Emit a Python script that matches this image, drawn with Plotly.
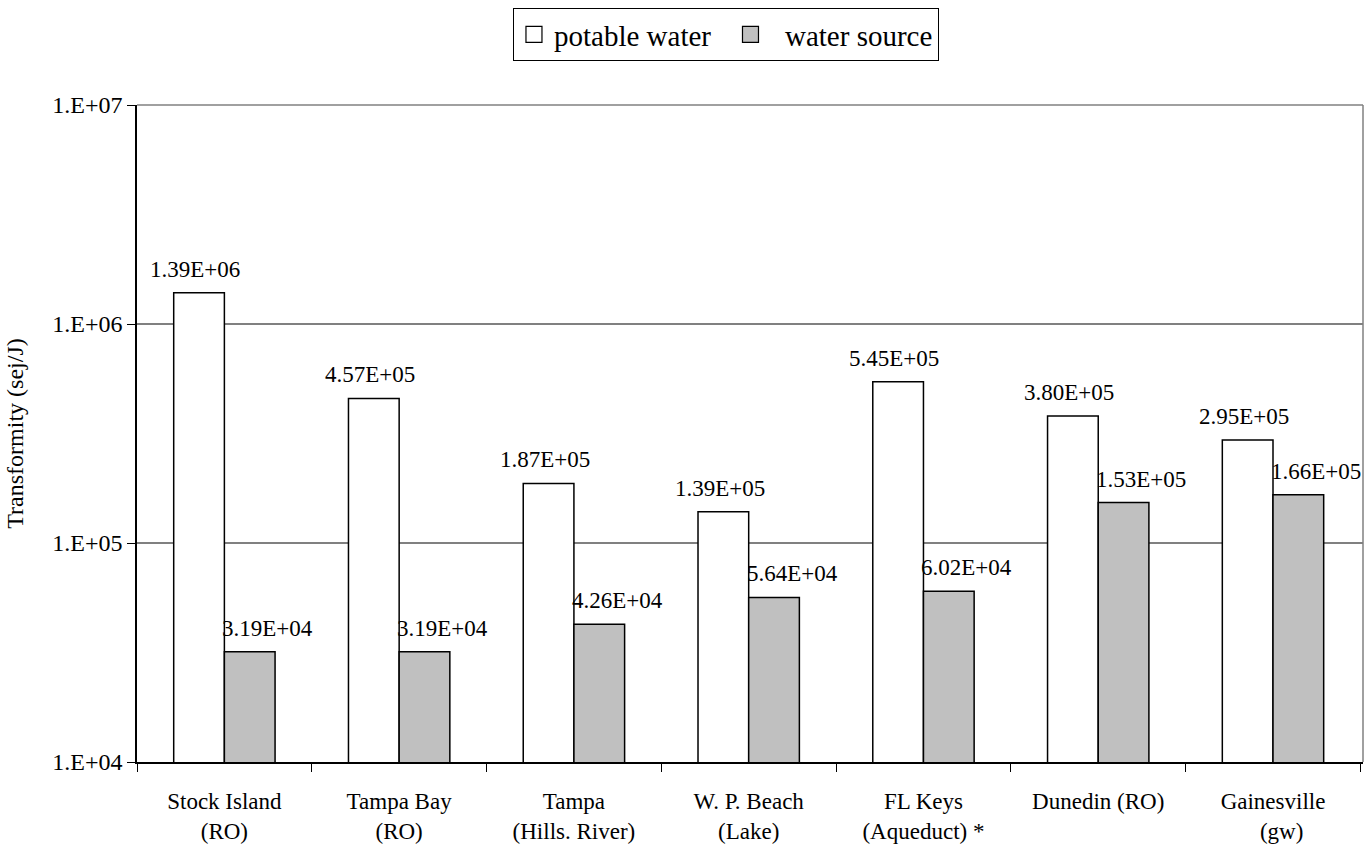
import math
import plotly.graph_objects as go

# Treatment systems and their transformities (sej/J)
categories = [
    "Stock Island<br>(RO)",
    "Tampa Bay<br>(RO)",
    "Tampa<br>(Hills. River)",
    "W. P. Beach<br>(Lake)",
    "FL Keys<br>(Aqueduct) *",
    "Dunedin (RO)",
    "Gainesville<br>\u00a0\u00a0\u00a0(gw)",
]
potable_water = [1.39e6, 4.57e5, 1.87e5, 1.39e5, 5.45e5, 3.80e5, 2.95e5]
water_source = [3.19e4, 3.19e4, 4.26e4, 5.64e4, 6.02e4, 1.53e5, 1.66e5]
series_names = ["potable water", "water source"]
legend_labels = ["potable water\u00a0\u00a0", "\u00a0\u00a0water source"]

y_tick_vals = [1e4, 1e5, 1e6, 1e7]
y_tick_text = ["1.E+04", "1.E+05", "1.E+06", "1.E+07"]

FONT = "Liberation Serif"
GRAY = "#c0c0c0"
GRID = "#808080"
fills = ["white", GRAY]

fig = go.Figure()
for name, vals, fill in zip(series_names, [potable_water, water_source], fills):
    fig.add_trace(go.Bar(
        name=name, x=categories, y=vals, showlegend=False,
        marker=dict(color=fill, line=dict(color="black", width=1.5)),
    ))
# Larger square swatches for the legend
for label, fill in zip(legend_labels, fills):
    fig.add_trace(go.Scatter(
        name=label, x=[None], y=[None], mode="markers",
        marker=dict(symbol="square", size=16, color=fill,
                    line=dict(color="black", width=1.2)),
    ))

# Value labels above each bar
annotations = []
for cat, pv, sv in zip(categories, potable_water, water_source):
    annotations.append(dict(
        x=cat, y=math.log10(pv), xref="x", yref="y",
        text=f"{pv:.2E}", showarrow=False,
        xanchor="center", yanchor="bottom", xshift=-29, yshift=9,
        font=dict(family=FONT, size=23, color="black"),
    ))
    annotations.append(dict(
        x=cat, y=math.log10(sv), xref="x", yref="y",
        text=f"{sv:.2E}", showarrow=False,
        xanchor="left", yanchor="bottom", xshift=-4, yshift=9,
        font=dict(family=FONT, size=23, color="black"),
    ))

fig.update_layout(
    width=1371, height=852,
    margin=dict(l=137, r=8, t=105, b=90),
    paper_bgcolor="white", plot_bgcolor="white",
    barmode="group", bargap=0.42, bargroupgap=0,
    font=dict(family=FONT, size=23, color="black"),
    showlegend=True,
    legend=dict(
        orientation="h", x=0.4804, y=1.1476, xanchor="center", yanchor="top",
        bordercolor="black", borderwidth=1, bgcolor="white",
        font=dict(family=FONT, size=29, color="black"),
        itemwidth=30, tracegroupgap=0,
    ),
    annotations=annotations,
    shapes=[
        dict(type="line", xref="paper", yref="paper", x0=1, x1=1, y0=0, y1=1,
             line=dict(color=GRID, width=1.5)),
        dict(type="line", xref="paper", yref="paper", x0=0, x1=1, y0=1, y1=1,
             line=dict(color=GRID, width=1.5)),
    ],
)

fig.update_xaxes(
    showline=True, linecolor="black", linewidth=1.5,
    ticks="outside", tickson="boundaries", ticklen=8, tickcolor="black",
    showgrid=False, ticklabelstandoff=18,
    tickfont=dict(family=FONT, size=23, color="black"),
)
fig.update_yaxes(
    type="log", range=[4, 7],
    tickvals=y_tick_vals, ticktext=y_tick_text,
    showline=True, linecolor="black", linewidth=1.5,
    ticks="outside", ticklen=8, tickcolor="black",
    showgrid=True, gridcolor=GRID, gridwidth=1.5,
    tickfont=dict(family=FONT, size=24, color="black"),
    title=dict(text="Transformity (sej/J)", standoff=22,
               font=dict(family=FONT, size=24, color="black")),
)

fig.write_html("out.html")
